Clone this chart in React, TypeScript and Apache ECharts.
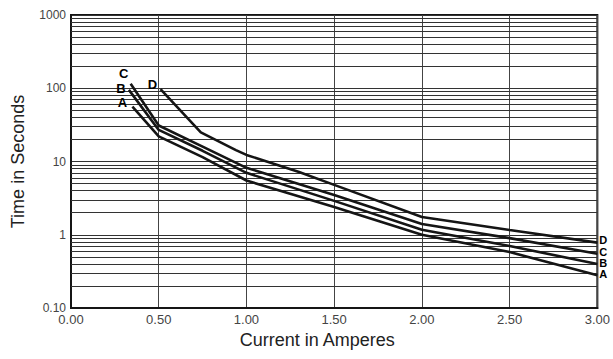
import React, { useEffect, useRef } from "react";
import * as echarts from "echarts";

const xTicks = [0, 0.5, 1.0, 1.5, 2.0, 2.5, 3.0];
const yMajor = [0.1, 1, 10, 100, 1000];
const minorMultiples = [2, 3, 4, 5, 6, 7, 8, 9];

const curveA: [number, number][] = [
  [0.35, 56], [0.5, 22], [0.75, 11.5], [1.0, 5.5], [1.5, 2.4], [2.0, 1.0], [2.5, 0.58], [3.0, 0.28],
];
const curveB: [number, number][] = [
  [0.33, 95], [0.5, 27], [0.75, 14], [1.0, 7], [1.5, 2.9], [2.0, 1.17], [2.5, 0.7], [3.0, 0.4],
];
const curveC: [number, number][] = [
  [0.34, 115], [0.5, 31], [0.75, 16], [1.0, 8.2], [1.5, 3.5], [2.0, 1.4], [2.5, 0.9], [3.0, 0.55],
];
const curveD: [number, number][] = [
  [0.51, 97], [0.74, 25], [0.94, 14.3], [1.0, 12.3], [1.3, 7.2], [1.5, 4.8], [2.0, 1.75], [2.5, 1.16], [3.0, 0.78],
];

const curves = [
  { name: "A", data: curveA, startOffset: [-10, -4], endOffset: [0, -1] },
  { name: "B", data: curveB, startOffset: [-8, -1], endOffset: [0, -1] },
  { name: "C", data: curveC, startOffset: [-7, -10], endOffset: [0, -2] },
  { name: "D", data: curveD, startOffset: [-8, -5], endOffset: [0, -3] },
];

export default function App() {
  const ref = useRef<HTMLDivElement>(null);
  useEffect(() => {
    if (!ref.current) return;
    const chart = echarts.init(ref.current, undefined, { renderer: "svg" });
    const minorLines: { yAxis: number }[] = [];
    yMajor.slice(0, -1).forEach((d) => {
      minorMultiples.forEach((m) => minorLines.push({ yAxis: +(d * m).toPrecision(3) }));
    });
    const labelFont = {
      fontFamily: "Liberation Sans, Arial, sans-serif",
      fontWeight: "bold" as const,
      fontSize: 12,
      color: "#000",
      textBorderWidth: 0,
      opacity: 1,
    };
    const series: any[] = curves.map((c, i) => ({
      type: "line",
      name: c.name,
      data: c.data,
      symbol: "none",
      lineStyle: { color: "#151515", width: 2.6 },
      endLabel: {
        show: true,
        formatter: c.name,
        distance: 2,
        offset: c.endOffset,
        ...labelFont,
        fontSize: 11,
        lineHeight: 11,
      },
      z: 3,
      markLine:
        i === 0
          ? {
              silent: true,
              symbol: ["none", "none"],
              label: { show: false },
              lineStyle: { color: "#333", width: 1, type: "solid" },
              data: minorLines,
              z: 1,
            }
          : undefined,
    }));
    series.push({
      type: "scatter",
      name: "startLabels",
      symbolSize: 0,
      itemStyle: { color: "#000", opacity: 1 },
      silent: true,
      z: 4,
      data: curves.map((c) => ({
        value: c.data[0],
        label: {
          show: true,
          position: "inside",
          offset: c.startOffset,
          formatter: c.name,
          ...labelFont,
          fontSize: 13,
          lineHeight: 12,
        },
      })),
    });
    chart.setOption({
      animation: false,
      grid: { left: 71, right: 13, top: 15, bottom: 51, show: true, borderColor: "#151515", borderWidth: 2 },
      xAxis: {
        type: "value",
        min: 0,
        max: 3,
        interval: 0.5,
        name: "Current in Amperes",
        nameLocation: "middle",
        nameGap: 23,
        nameTextStyle: {
          fontFamily: "Liberation Sans, Arial, sans-serif",
          fontSize: 18,
          color: "#222",
          padding: [0, 34, 0, 0],
        },
        axisLine: { show: true, lineStyle: { color: "#151515", width: 2 } },
        axisTick: { show: false },
        axisLabel: {
          margin: 5,
          fontFamily: "Liberation Sans, Arial, sans-serif",
          fontSize: 13,
          color: "#444",
          formatter: (v: number) => (xTicks.includes(v) ? v.toFixed(2) : ""),
        },
        splitLine: { show: true, lineStyle: { color: "#444", width: 1 } },
      },
      yAxis: {
        type: "log",
        logBase: 10,
        min: 0.1,
        max: 1000,
        name: "Time in Seconds",
        nameLocation: "middle",
        nameGap: 44,
        nameTextStyle: { fontFamily: "Liberation Sans, Arial, sans-serif", fontSize: 18, color: "#222" },
        axisLine: { show: true, lineStyle: { color: "#151515", width: 2 } },
        axisTick: { show: false },
        axisLabel: {
          margin: 5,
          fontFamily: "Liberation Sans, Arial, sans-serif",
          fontSize: 12,
          color: "#444",
          formatter: (v: number) => (Math.abs(v - 0.1) < 1e-9 ? "0.10" : String(Math.round(v))),
        },
        splitLine: { show: true, lineStyle: { color: "#333", width: 1 } },
      },
      series,
    });
    return () => chart.dispose();
  }, []);
  return <div ref={ref} style={{ width: 613, height: 359, position: "absolute", left: 0, top: 0 }} />;
}
